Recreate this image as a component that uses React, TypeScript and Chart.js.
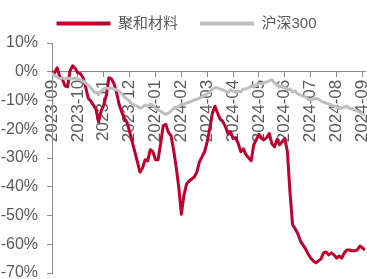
import React, { useEffect, useRef } from "react";
import { Chart, registerables } from "chart.js";

Chart.register(...registerables);

const monthLabels = [
  "2023-09", "2023-10", "2023-11", "2023-12", "2024-01", "2024-02", "2024-03",
  "2024-04", "2024-05", "2024-06", "2024-07", "2024-08", "2024-09",
];

const seriesNames = ["聚和材料", "沪深300"];

// 聚和材料 cumulative return (%), ~10 points per month
const juheValues = [
  0, -0.4, 1.4, -1.8, -2.5, -4.9, -5.3, 0.4, 2.1, 1.1,
  -0.4, -0.7, -2.1, -5.3, -9.2, -10.2, -11.6, -13, -17.5, -13.7,
  -11.6, -8.1, -2.1, -2.5, -4.2, -7.4, -11.6, -14.1, -16.2, -17.6,
  -20.8, -24.3, -27.8, -31.3, -34.9, -33.5, -30.6, -31, -27.1, -27.8,
  -30.6, -30.6, -25, -18.7, -18.3, -21.1, -22.2, -27.1, -33.1, -40.1,
  -49.6, -43, -39.1, -38, -37.3, -36.6, -34.9, -31.3, -29.6, -27.8,
  -24.3, -19.7, -14.4, -12, -14.4, -16.5, -17.3, -19, -21.5, -20.8,
  -23.2, -22.9, -25, -27.8, -26.8, -28.9, -29.9, -31, -25.4, -23.6,
  -21.8, -22.9, -23.6, -22.9, -21.5, -25, -26.1, -23.6, -25.4, -24.3,
  -23.2, -27.8, -41.9, -53.2, -54.6, -56.3, -58.8, -60.2, -61.6, -63.4,
  -64.8, -65.8, -66.5, -65.8, -65.1, -63, -62.7, -63.7, -63, -63.7,
  -64.8, -64.1, -64.8, -63, -62, -62, -62.3, -62.3, -62, -60.6,
  -61.3, -62,
];

// 沪深300 cumulative return (%)
const hs300Values = [
  -0.4, -1.4, -1.8, -2.5, -2.1, -2.5, -2.1, -2.5, -2.5, -2.1,
  -2.5, -2.8, -3.2, -3.9, -4.6, -5.6, -6.7, -7.4, -7.7, -6.7,
  -6, -5.6, -6, -5.6, -6, -6.3, -6.7, -7.7, -8.8, -9.5,
  -10.2, -11.3, -11.6, -12, -12.7, -12.3, -11.6, -12, -11.3, -11.6,
  -12.7, -13.4, -13.7, -14.4, -14.8, -14.4, -13.7, -12.7, -12.7, -12,
  -11.3, -11.3, -10.9, -10.6, -10.2, -9.9, -9.5, -9.2, -8.8, -8.1,
  -7.7, -7, -6, -5.6, -5.6, -6, -6.3, -6.7, -7.4, -6.3,
  -6.7, -7, -6.7, -7, -6, -6, -5.6, -4.9, -5.3, -4.6,
  -4.2, -4.2, -3.9, -3.5, -3.2, -2.8, -3.9, -4.6, -5.3, -4.9,
  -5.6, -6.3, -6, -7, -6.7, -7.7, -8.1, -8.5, -8.8, -9.5,
  -9.9, -9.5, -9.2, -9.5, -10.2, -10.6, -10.9, -11.3, -11.6, -12,
  -12.3, -12.7, -12.7, -12.3, -12, -12.7, -13, -13.4, -13.7, -14.1,
  -14.8, -15.1,
];

const POINTS_PER_MONTH = 10;
const yTicks = [-70, -60, -50, -40, -30, -20, -10, 0, 10];

const RED = "#C0002F";
const GRAY = "#BFBFBF";
const TEXT = "#595959";
const AXIS = "#8C8C8C";
const FONT_FAMILY = "'Liberation Sans', Arial, 'Noto Sans CJK SC', sans-serif";

const zeroPadding = (scale: any) => {
  scale.paddingLeft = 0;
  scale.paddingRight = 0;
  scale.paddingTop = 0;
  scale.paddingBottom = 0;
};

const legendShift = {
  id: "legendShift",
  afterLayout(chart: any) {
    if (chart.legend) {
      chart.legend.left += 4;
      chart.legend.right += 4;
      chart.legend.top -= 2;
      chart.legend.bottom -= 2;
    }
  },
};

export default function App() {
  const canvasRef = useRef<HTMLCanvasElement | null>(null);

  useEffect(() => {
    const canvas = canvasRef.current;
    if (!canvas) return;
    const toXY = (arr: number[]) => arr.map((v, i) => ({ x: i, y: v }));
    const chart = new Chart(canvas, {
      type: "line",
      data: {
        datasets: [
          {
            label: seriesNames[0],
            data: toXY(juheValues),
            borderColor: RED,
            backgroundColor: RED,
            borderWidth: 3,
            pointRadius: 0,
            tension: 0,
            borderJoinStyle: "round",
            order: 1,
          },
          {
            label: seriesNames[1],
            data: toXY(hs300Values),
            borderColor: GRAY,
            backgroundColor: GRAY,
            borderWidth: 3,
            pointRadius: 0,
            tension: 0,
            borderJoinStyle: "round",
            order: 0,
          },
        ],
      },
      plugins: [legendShift],
      options: {
        animation: false,
        responsive: true,
        maintainAspectRatio: false,
        layout: { padding: { top: -9, right: 2, left: 0, bottom: 6 } },
        plugins: {
          tooltip: { enabled: false },
          legend: {
            display: true,
            position: "top",
            labels: {
              boxWidth: 54,
              boxHeight: 4,
              padding: 22,
              color: TEXT,
              font: { size: 15, family: FONT_FAMILY },
              sort: (a: any, b: any) => a.datasetIndex - b.datasetIndex,
              generateLabels: (chart: any) =>
                Chart.defaults.plugins.legend.labels
                  .generateLabels(chart)
                  .map((l: any) => ({ ...l, lineWidth: 0 })),
            },
          },
        },
        scales: {
          x: {
            type: "linear",
            min: 0,
            max: (monthLabels.length - 1) * POINTS_PER_MONTH + 1,
            position: { y: 0 } as any,
            grid: {
              display: true,
              drawOnChartArea: false,
              drawTicks: true,
              tickLength: 5,
              color: AXIS,
            },
            border: { display: true, color: AXIS, width: 1 },
            ticks: {
              autoSkip: false,
              maxRotation: 90,
              minRotation: 90,
              padding: 3,
              color: TEXT,
              font: { size: 17, family: FONT_FAMILY },
              callback: (v: any) => monthLabels[Math.round(Number(v) / POINTS_PER_MONTH)],
            },
            afterBuildTicks: (scale: any) => {
              scale.ticks = monthLabels.map((_, k) => ({ value: k * POINTS_PER_MONTH }));
            },
            afterFit: zeroPadding,
          },
          y: {
            type: "linear",
            min: -70,
            max: 10,
            grid: {
              display: true,
              drawOnChartArea: false,
              drawTicks: true,
              tickLength: 5,
              color: AXIS,
            },
            border: { display: true, color: AXIS, width: 1 },
            ticks: {
              padding: 9,
              color: TEXT,
              font: { size: 16, family: FONT_FAMILY },
              callback: (v: any) => `${v}%`,
            },
            afterBuildTicks: (scale: any) => {
              scale.ticks = yTicks.map((v) => ({ value: v }));
            },
            afterFit: (scale: any) => {
              zeroPadding(scale);
              scale.paddingTop = 43;
              scale.width = 52;
            },
          },
        },
      },
    });
    return () => chart.destroy();
  }, []);

  return (
    <div style={{ position: "fixed", left: 0, top: 0, width: 367, height: 279, background: "#fff" }}>
      <canvas ref={canvasRef} />
    </div>
  );
}
